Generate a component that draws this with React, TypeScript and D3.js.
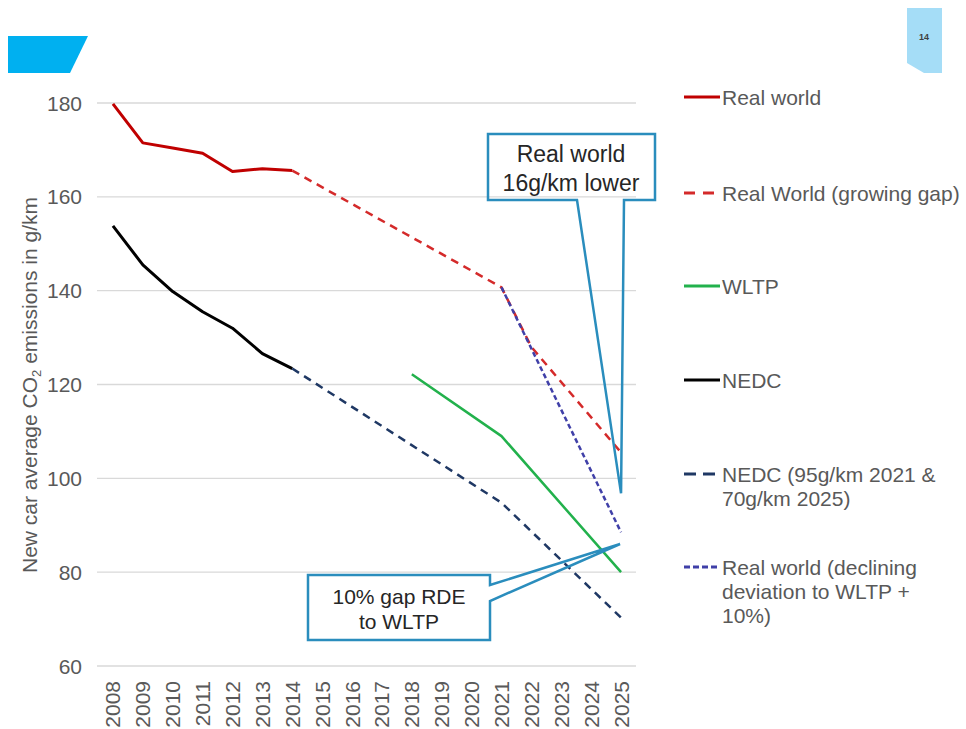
import React from "react";
import * as d3 from "d3";

const years = [2008, 2009, 2010, 2011, 2012, 2013, 2014, 2015, 2016, 2017, 2018, 2019, 2020, 2021, 2022, 2023, 2024, 2025];
const yTicks = [60, 80, 100, 120, 140, 160, 180];

const realWorldYears = [2008, 2009, 2010, 2011, 2012, 2013, 2014];
const realWorldValues = [179.8, 171.5, 170.4, 169.3, 165.4, 166.0, 165.6];

const growingGapYears = [2014, 2021, 2022, 2025];
const growingGapValues = [165.6, 140.7, 128, 105.5];

const wltpYears = [2018, 2021, 2025];
const wltpValues = [122.2, 109, 80];

const nedcYears = [2008, 2009, 2010, 2011, 2012, 2013, 2014];
const nedcValues = [153.8, 145.5, 139.8, 135.5, 132, 126.6, 123.4];

const nedcTargetYears = [2014, 2021, 2025];
const nedcTargetValues = [123.4, 94.8, 70.3];

const decliningYears = [2021, 2025];
const decliningValues = [140.7, 88.5];

const callout1Lines = ["Real world", "16g/km lower"];
const callout1Tip = { year: 2025, value: 96.8 };
const callout2Lines = ["10% gap RDE", "to WLTP"];
const callout2Tip = { year: 2025, value: 86 };

const legendItems = [
  { lines: ["Real world"], color: "#C00000", dash: "", y: 97 },
  { lines: ["Real World (growing gap)"], color: "#D42A2A", dash: "11,8", y: 193 },
  { lines: ["WLTP"], color: "#22B14C", dash: "", y: 286 },
  { lines: ["NEDC"], color: "#000000", dash: "", y: 380 },
  { lines: ["NEDC (95g/km 2021 &", "70g/km 2025)"], color: "#1F3864", dash: "12,7", y: 474 },
  { lines: ["Real world (declining", "deviation to WLTP +", "10%)"], color: "#4040A8", dash: "6,3", y: 567 },
];

const FONT = "'Liberation Sans', Arial, sans-serif";
const GRAY = "#595959";

export default function App() {
  const x = d3.scalePoint<number>().domain(years).range([98, 636]).padding(0.5);
  const y = d3.scaleLinear().domain([60, 180]).range([666, 103]);
  const line = d3
    .line<[number, number]>()
    .x((d) => x(d[0]) as number)
    .y((d) => y(d[1]));
  const pts = (ys: number[], vs: number[]) => ys.map((yr, i) => [yr, vs[i]] as [number, number]);

  const series = [
    { ys: realWorldYears, vs: realWorldValues, color: "#C00000", dash: "", w: 3 },
    { ys: nedcYears, vs: nedcValues, color: "#000000", dash: "", w: 3 },
    { ys: growingGapYears, vs: growingGapValues, color: "#D42A2A", dash: "8,6", w: 2.5 },
    { ys: nedcTargetYears, vs: nedcTargetValues, color: "#1F3864", dash: "8,6", w: 2.5 },
    { ys: wltpYears, vs: wltpValues, color: "#22B14C", dash: "", w: 2.5 },
    { ys: decliningYears, vs: decliningValues, color: "#4040A8", dash: "5,3", w: 2.5 },
  ];

  const t1x = x(callout1Tip.year) as number;
  const t1y = y(callout1Tip.value);
  const t2x = (x(callout2Tip.year) as number) - 1;
  const t2y = y(callout2Tip.value);

  const c1 = `M488,134 H655 V200 H624 L${t1x},${t1y} L577,200 H488 Z`;
  const c2 = `M308,575 H490 V585 L${t2x},${t2y} L490,601 V640 H308 Z`;

  return (
    <svg
      width={966}
      height={729}
      style={{ position: "absolute", left: 0, top: 0, background: "#fff" }}
      fontFamily={FONT}
    >
      <rect width={966} height={729} fill="#fff" />
      {/* decorations */}
      <path d="M8,36 H88 L70,73 H8 Z" fill="#00B0F0" />
      <path d="M907,8 H942 V73 H924 L907,63 Z" fill="#A5DDF7" />
      <text x={924} y={40} fontSize={9} fontWeight="bold" fill="#404040" textAnchor="middle">
        14
      </text>

      {/* gridlines */}
      {yTicks.map((t) => (
        <line key={t} x1={97} x2={636} y1={y(t)} y2={y(t)} stroke="#D9D9D9" strokeWidth={1.3} />
      ))}
      {yTicks.map((t) => (
        <text key={"l" + t} x={82} y={y(t) + 7.5} fontSize={21} fill={GRAY} textAnchor="end">
          {t}
        </text>
      ))}
      {years.map((yr) => (
        <text
          key={yr}
          transform={`translate(${(x(yr) as number) + 7.5},681) rotate(-90)`}
          fontSize={21}
          fill={GRAY}
          textAnchor="end"
        >
          {yr}
        </text>
      ))}
      <text
        transform="translate(37,385) rotate(-90)"
        fontSize={21}
        fill={GRAY}
        textAnchor="middle"
      >
        New car average CO<tspan fontSize={13} dy={4}>2</tspan>
        <tspan dy={-4}> emissions in g/km</tspan>
      </text>

      {/* series */}
      {series.map((s, i) => (
        <path
          key={i}
          d={line(pts(s.ys, s.vs)) || ""}
          fill="none"
          stroke={s.color}
          strokeWidth={s.w}
          strokeDasharray={s.dash || undefined}
          strokeLinejoin="round"
        />
      ))}

      {/* callouts */}
      <path d={c1} fill="none" stroke="#2A8DBD" strokeWidth={2.5} strokeLinejoin="miter" />
      {callout1Lines.map((l, i) => (
        <text key={l} x={571} y={162 + i * 29} fontSize={23} fill="#262626" textAnchor="middle">
          {l}
        </text>
      ))}
      <path d={c2} fill="none" stroke="#2A8DBD" strokeWidth={2.5} strokeLinejoin="miter" />
      {callout2Lines.map((l, i) => (
        <text key={l} x={399} y={604 + i * 25} fontSize={21} fill="#262626" textAnchor="middle">
          {l}
        </text>
      ))}

      {/* legend */}
      {legendItems.map((it, i) => (
        <g key={i}>
          <line
            x1={684}
            x2={720}
            y1={it.y}
            y2={it.y}
            stroke={it.color}
            strokeWidth={3}
            strokeDasharray={it.dash || undefined}
          />
          {it.lines.map((l, j) => (
            <text key={j} x={722} y={it.y + 7.5 + j * 24} fontSize={21} fill={GRAY}>
              {l}
            </text>
          ))}
        </g>
      ))}
    </svg>
  );
}
